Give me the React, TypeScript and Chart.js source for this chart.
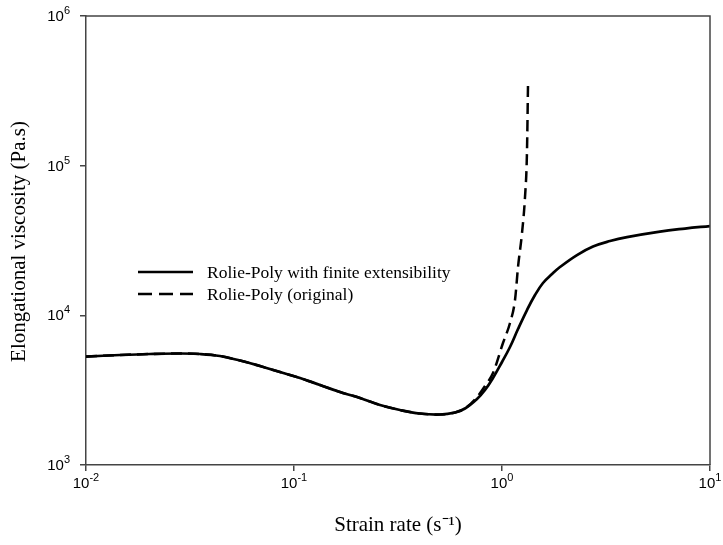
import React, { useEffect, useRef } from "react";
import { Chart, registerables } from "chart.js";

Chart.register(...registerables);

// Solid curve: Rolie-Poly with finite extensibility
const finiteRate = [0.01, 0.01458, 0.02031, 0.0283, 0.03533, 0.04406, 0.05499, 0.06864, 0.08564, 0.1069, 0.1334, 0.1664, 0.2077, 0.2592, 0.3233, 0.4034, 0.5033, 0.5943, 0.6638, 0.7584, 0.8286, 0.9051, 1.0, 1.0926, 1.194, 1.319, 1.441, 1.574, 1.74, 1.9, 2.294, 2.739, 3.305, 3.99, 5.748, 7.582, 10];
const finiteVisc = [5306, 5430, 5515, 5557, 5515, 5347, 4990, 4585, 4181, 3813, 3423, 3074, 2803, 2516, 2330, 2208, 2175, 2243, 2385, 2760, 3170, 3813, 4876, 6141, 8101, 10850, 13660, 16440, 18880, 21020, 25280, 28820, 31360, 33340, 36290, 38000, 39500];

// Dashed curve: Rolie-Poly (original)
const origRate = [0.01, 0.01458, 0.02031, 0.0283, 0.03533, 0.04406, 0.05499, 0.06864, 0.08564, 0.1069, 0.1334, 0.1664, 0.2077, 0.2592, 0.3233, 0.4034, 0.5033, 0.5943, 0.6638, 0.7584, 0.8286, 0.9051, 1.011, 1.0926, 1.155, 1.194, 1.248, 1.29, 1.318, 1.334];
const origVisc = [5306, 5430, 5515, 5557, 5515, 5347, 4990, 4585, 4181, 3813, 3423, 3074, 2803, 2516, 2330, 2208, 2175, 2243, 2385, 2846, 3371, 4118, 6531, 8885, 12660, 21020, 35500, 61700, 121000, 356000];

const xTicks = [0.01, 0.1, 1, 10];
const xTickExp = ["-2", "-1", "0", "1"];
const yTicks = [1000, 10000, 100000, 1000000];
const yTickExp = ["3", "4", "5", "6"];

const seriesLabels = ["Rolie-Poly with finite extensibility", "Rolie-Poly (original)"];
const xTitle = "Strain rate (s⁻¹)";
const yTitle = "Elongational viscosity (Pa.s)";

const SANS = "'Liberation Sans', Arial, sans-serif";
const SERIF = "'Liberation Serif', 'Times New Roman', serif";

export default function App() {
  const ref = useRef<HTMLCanvasElement | null>(null);
  useEffect(() => {
    document.body.style.margin = "0";
    const canvas = ref.current!;
    const drawPow = (ctx: any, exp: string, x: number, y: number, align: string) => {
      const base = "10";
      ctx.font = `15px ${SANS}`;
      const wb = ctx.measureText(base).width;
      ctx.font = `11px ${SANS}`;
      const we = ctx.measureText(exp).width;
      const total = wb + we;
      const left = align === "right" ? x - total : x - total / 2;
      ctx.textAlign = "left";
      ctx.textBaseline = "middle";
      ctx.font = `15px ${SANS}`;
      ctx.fillText(base, left, y);
      ctx.font = `11px ${SANS}`;
      ctx.fillText(exp, left + wb, y - 6);
    };
    const deco = {
      id: "deco",
      afterDraw(chart: any) {
        const { ctx, chartArea: a } = chart;
        ctx.save();
        ctx.strokeStyle = "#444";
        ctx.lineWidth = 1.5;
        ctx.beginPath();
        ctx.moveTo(a.left, a.top);
        ctx.lineTo(a.right, a.top);
        ctx.lineTo(a.right, a.bottom);
        ctx.stroke();
        // tick labels with superscript exponents
        ctx.fillStyle = "#000";
        const xs = chart.scales.x;
        const ys = chart.scales.y;
        xTicks.forEach((v, i) => drawPow(ctx, xTickExp[i], xs.getPixelForValue(v), a.bottom + 19, "center"));
        yTicks.forEach((v, i) => drawPow(ctx, yTickExp[i], a.left - 16, ys.getPixelForValue(v) + 1, "right"));
        // y title
        ctx.save();
        ctx.translate(19, (a.top + a.bottom) / 2 + 1);
        ctx.rotate(-Math.PI / 2);
        ctx.font = `21px ${SERIF}`;
        ctx.textAlign = "center";
        ctx.textBaseline = "middle";
        ctx.fillText(yTitle, 0, 0);
        ctx.restore();
        // legend
        const ds = chart.data.datasets;
        const rows = [272, 294];
        ctx.font = `17.5px ${SERIF}`;
        ctx.textAlign = "left";
        ctx.textBaseline = "middle";
        ds.forEach((d: any, i: number) => {
          ctx.beginPath();
          ctx.strokeStyle = "#000";
          ctx.lineWidth = 2.6;
          ctx.setLineDash(i === 1 ? [14, 7] : []);
          ctx.moveTo(138, rows[i]);
          ctx.lineTo(193, rows[i]);
          ctx.stroke();
          ctx.setLineDash([]);
          ctx.fillText(d.label, 207, rows[i] + 1);
        });
        ctx.restore();
      },
    };
    const chart = new Chart(canvas, {
      type: "scatter",
      data: {
        datasets: [
          {
            label: seriesLabels[0],
            data: finiteRate.map((x, i) => ({ x, y: finiteVisc[i] })),
            showLine: true,
            borderColor: "#000",
            borderWidth: 2.7,
            pointRadius: 0,
            tension: 0.4,
          },
          {
            label: seriesLabels[1],
            data: origRate.map((x, i) => ({ x, y: origVisc[i] })),
            showLine: true,
            borderColor: "#000",
            borderWidth: 2.5,
            borderDash: [11, 6],
            pointRadius: 0,
            cubicInterpolationMode: "monotone",
          },
        ],
      },
      plugins: [deco],
      options: {
        responsive: false,
        animation: false,
        layout: { padding: { top: 16, right: 13, left: 0, bottom: 0 } },
        plugins: { legend: { display: false }, tooltip: { enabled: false } },
        scales: {
          x: {
            type: "logarithmic",
            min: 0.01,
            max: 10,
            afterBuildTicks: (s: any) => {
              s.ticks = xTicks.map((v) => ({ value: v }));
            },
            afterFit: (s: any) => {
              s.height = 80;
              s.paddingLeft = 0;
              s.paddingRight = 0;
            },
            border: { display: true, color: "#444", width: 1.5 },
            grid: { drawOnChartArea: false, drawTicks: true, tickLength: 6, color: "#444", lineWidth: 1.5 },
            ticks: { display: false },
            title: {
              display: true,
              text: xTitle,
              color: "#000",
              font: { family: SERIF, size: 21 },
              padding: { top: 0, bottom: 7 },
              align: "center",
            },
          },
          y: {
            type: "logarithmic",
            min: 1000,
            max: 1000000,
            afterBuildTicks: (s: any) => {
              s.ticks = yTicks.map((v) => ({ value: v }));
            },
            afterFit: (s: any) => {
              s.width = 86;
              s.paddingTop = 0;
              s.paddingBottom = 0;
            },
            border: { display: true, color: "#444", width: 1.5 },
            grid: { drawOnChartArea: false, drawTicks: true, tickLength: 6, color: "#444", lineWidth: 1.5 },
            ticks: { display: false },
            title: { display: false, text: yTitle },
          },
        },
      },
    } as any);
    return () => chart.destroy();
  }, []);
  return (
    <div style={{ width: 723, height: 545, background: "#fff" }}>
      <canvas ref={ref} width={723} height={545} style={{ display: "block" }} />
    </div>
  );
}
